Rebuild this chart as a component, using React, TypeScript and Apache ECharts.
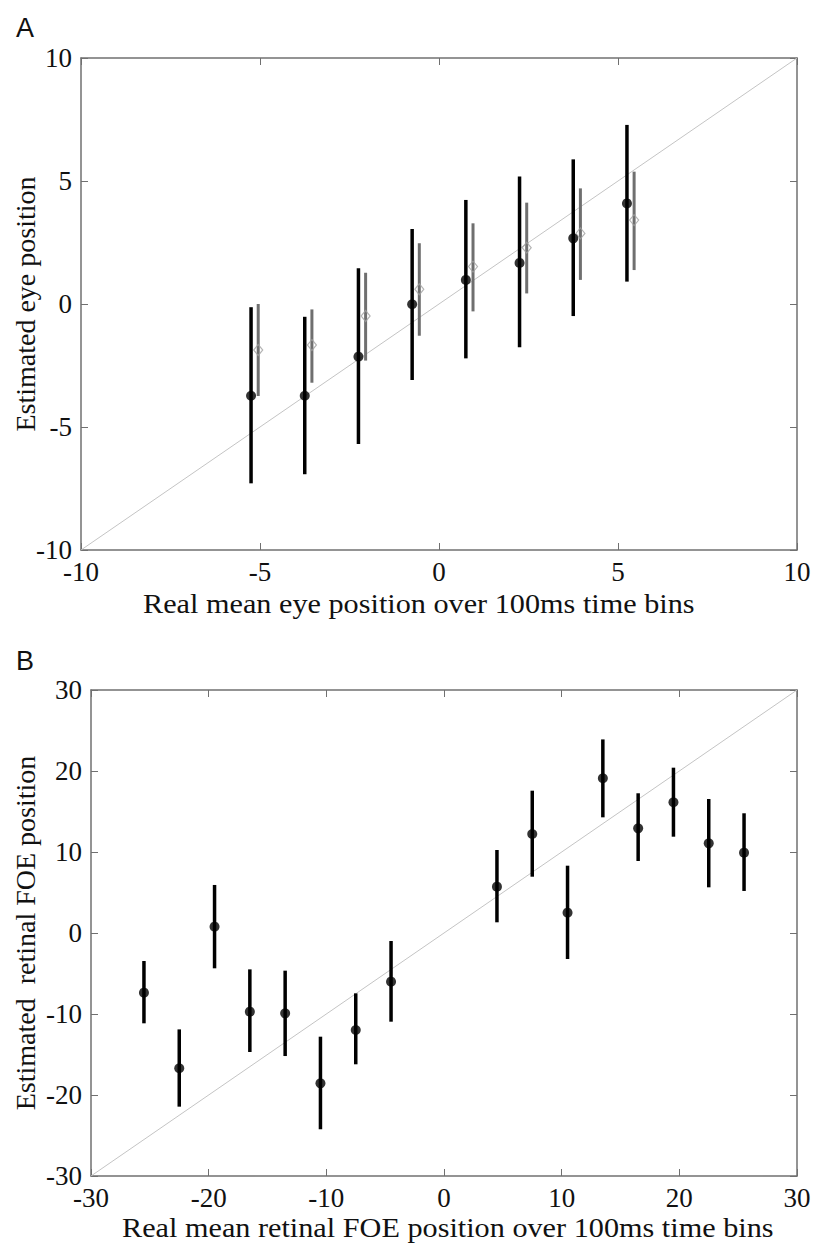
import React, { useEffect, useRef } from "react";
import * as echarts from "echarts";

// Panel A: real eye position bins (black) and alternative estimate (gray, offset)
const xA_black = [-5.25, -3.75, -2.25, -0.75, 0.75, 2.25, 3.75, 5.25];
const meanA_black = [-3.73, -3.73, -2.14, -0.01, 0.98, 1.67, 2.67, 4.09];
const lowA_black = [-7.29, -6.92, -5.69, -3.09, -2.21, -1.76, -0.49, 0.91];
const highA_black = [-0.13, -0.52, 1.45, 3.05, 4.23, 5.18, 5.88, 7.28];

const xA_gray = [-5.05, -3.55, -2.05, -0.55, 0.95, 2.45, 3.95, 5.45];
const meanA_gray = [-1.87, -1.67, -0.49, 0.6, 1.52, 2.29, 2.87, 3.41];
const lowA_gray = [-3.74, -3.2, -2.3, -1.29, -0.3, 0.43, 0.98, 1.38];
const highA_gray = [0.0, -0.22, 1.27, 2.47, 3.28, 4.12, 4.7, 5.38];

// Panel B: retinal FOE
const xB = [-25.5, -22.5, -19.5, -16.5, -13.5, -10.5, -7.5, -4.5, 4.5, 7.5, 10.5, 13.5, 16.5, 19.5, 22.5, 25.5];
const meanB = [-7.37, -16.7, 0.78, -9.71, -9.92, -18.56, -11.98, -6.01, 5.72, 12.22, 2.51, 19.1, 12.92, 16.14, 11.07, 9.92];
const lowB = [-11.15, -21.44, -4.36, -14.69, -15.19, -24.23, -16.21, -10.95, 1.32, 6.95, -3.21, 14.28, 8.89, 11.89, 5.64, 5.19];
const highB = [-3.46, -11.9, 5.93, -4.49, -4.65, -12.8, -7.45, -0.99, 10.25, 17.57, 8.31, 23.9, 17.25, 20.41, 16.54, 14.78];

const rangeA = [-10, 10];
const rangeB = [-30, 30];
const titleAx = "Real mean eye position over 100ms time bins";
const titleAy = "Estimated eye position";
const titleBx = "Real mean retinal FOE position over 100ms time bins";
const titleBy = "Estimated  retinal FOE position";

const SERIF = "'Liberation Serif', 'Times New Roman', serif";
const AXIS_COLOR = "#707070";

function makeAxis(gridIndex: number, range: number[], interval: number, position: string, showLabel: boolean) {
  const isX = position === "bottom" || position === "top";
  return {
    type: "value",
    gridIndex,
    min: range[0],
    max: range[1],
    interval,
    position,
    axisLine: { show: true, onZero: false, lineStyle: { color: AXIS_COLOR, width: 1.5 } },
    axisTick: { show: true, inside: true, length: 7, lineStyle: { color: AXIS_COLOR, width: 1 } },
    axisLabel: { show: showLabel, fontFamily: SERIF, fontSize: 27, color: "#111", margin: isX ? 8 : 9 },
    splitLine: { show: false },
  };
}

function errorBars(xs: number[], lo: number[], hi: number[], axisIdx: number, color: string, width: number) {
  return {
    type: "custom",
    xAxisIndex: axisIdx,
    yAxisIndex: axisIdx,
    data: xs.map((x, i) => [x, lo[i], hi[i]]),
    encode: { x: 0, y: [1, 2] },
    renderItem: (params: any, api: any) => {
      const p1 = api.coord([api.value(0), api.value(1)]);
      const p2 = api.coord([api.value(0), api.value(2)]);
      return {
        type: "line",
        shape: { x1: p1[0], y1: p1[1], x2: p2[0], y2: p2[1] },
        style: { stroke: color, lineWidth: width },
      };
    },
    z: 3,
  };
}

function txt(text: string, x: number, y: number, fontSize: number, family: string, extra: any = {}) {
  return {
    type: "text",
    x,
    y,
    ...extra,
    style: {
      text,
      fontSize,
      fontFamily: family,
      fill: "#111",
      align: extra.align || "left",
      textAlign: extra.align || "left",
      verticalAlign: "middle",
      textVerticalAlign: "middle",
    },
  };
}

export default function App() {
  const ref = useRef<HTMLDivElement>(null);
  useEffect(() => {
    document.body.style.margin = "0";
    document.body.style.overflow = "hidden";
    if (!ref.current) return;
    const chart = echarts.init(ref.current, null, { renderer: "svg" });
    const option: any = {
      animation: false,
      backgroundColor: "#fff",
      grid: [
        { left: 81, top: 58, width: 716, height: 492 },
        { left: 91, top: 690, width: 706, height: 486 },
      ],
      xAxis: [
        makeAxis(0, rangeA, 5, "bottom", true),
        makeAxis(0, rangeA, 5, "top", false),
        makeAxis(1, rangeB, 10, "bottom", true),
        makeAxis(1, rangeB, 10, "top", false),
      ],
      yAxis: [
        makeAxis(0, rangeA, 5, "left", true),
        makeAxis(0, rangeA, 5, "right", false),
        makeAxis(1, rangeB, 10, "left", true),
        makeAxis(1, rangeB, 10, "right", false),
      ],
      series: [
        {
          type: "line",
          xAxisIndex: 0,
          yAxisIndex: 0,
          data: [[rangeA[0], rangeA[0]], [rangeA[1], rangeA[1]]],
          symbol: "none",
          lineStyle: { color: "#c4c4c4", width: 1 },
          z: 1,
        },
        errorBars(xA_gray, lowA_gray, highA_gray, 0, "#6f6f6f", 3),
        {
          type: "scatter",
          xAxisIndex: 0,
          yAxisIndex: 0,
          data: xA_gray.map((x, i) => [x, meanA_gray[i]]),
          symbol: "diamond",
          symbolSize: [9, 11],
          itemStyle: { color: "none", borderColor: "#a0a0a0", borderWidth: 1.2 },
          z: 4,
        },
        errorBars(xA_black, lowA_black, highA_black, 0, "#000", 3.5),
        {
          type: "scatter",
          xAxisIndex: 0,
          yAxisIndex: 0,
          data: xA_black.map((x, i) => [x, meanA_black[i]]),
          symbol: "circle",
          symbolSize: 10,
          itemStyle: { color: "#000" },
          z: 5,
        },
        {
          type: "line",
          xAxisIndex: 2,
          yAxisIndex: 2,
          data: [[rangeB[0], rangeB[0]], [rangeB[1], rangeB[1]]],
          symbol: "none",
          lineStyle: { color: "#c4c4c4", width: 1 },
          z: 1,
        },
        errorBars(xB, lowB, highB, 2, "#000", 3.5),
        {
          type: "scatter",
          xAxisIndex: 2,
          yAxisIndex: 2,
          data: xB.map((x, i) => [x, meanB[i]]),
          symbol: "circle",
          symbolSize: 10,
          itemStyle: { color: "#000" },
          z: 5,
        },
      ],
      graphic: [
        txt("A", 16, 28, 27, "'Liberation Sans', Arial, sans-serif"),
        txt("B", 16, 661, 27, "'Liberation Sans', Arial, sans-serif"),
        txt(titleAx, 143, 604, 27, SERIF, { scaleX: 1.12 }),
        txt(titleBx, 122, 1228, 27, SERIF, { scaleX: 1.12 }),
        txt(titleAy, 25, 304, 28, SERIF, { rotation: Math.PI / 2, align: "center" }),
        txt(titleBy, 25, 933, 28, SERIF, { rotation: Math.PI / 2, align: "center" }),
      ],
    };
    chart.setOption(option);
    return () => chart.dispose();
  }, []);
  return <div ref={ref} style={{ width: 820, height: 1243 }} />;
}
